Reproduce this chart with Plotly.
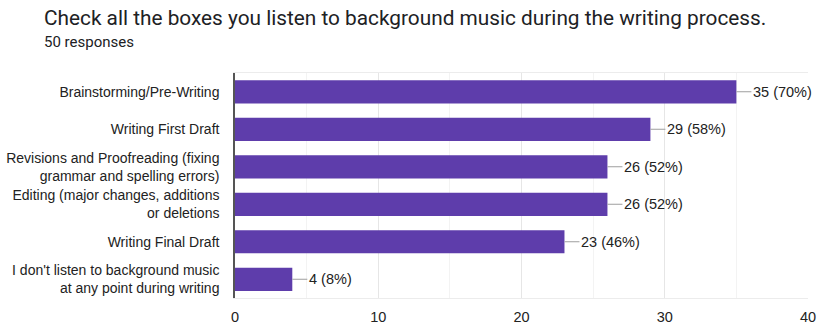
import plotly.graph_objects as go

categories = [
    "Brainstorming/Pre-Writing",
    "Writing First Draft",
    "Revisions and Proofreading (fixing<br>grammar and spelling errors)",
    "Editing (major changes, additions<br>or deletions",
    "Writing Final Draft",
    "I don't listen to background music<br>at any point during writing",
]
counts = [35, 29, 26, 26, 23, 4]
total_responses = 50
x_ticks = [0, 10, 20, 30, 40]
title_text = "Check all the boxes you listen to background music during the writing process."
subtitle_text = f"{total_responses} responses"

W, H = 817, 326
ML, MR, MT, MB = 235, 9, 73, 28
plot_h = H - MT - MB

bar_color = "#5e3dab"
fig = go.Figure()
fig.add_trace(go.Bar(
    x=counts, y=categories, orientation="h",
    marker=dict(color=bar_color, line=dict(width=0)),
    width=0.62, hoverinfo="skip",
))

for c, v in zip(categories, counts):
    fig.add_annotation(
        x=v, y=c, xref="x", yref="y",
        text=f"{v} ({round(100 * v / total_responses)}%)",
        showarrow=True, arrowhead=0, arrowwidth=1, arrowcolor="#9e9e9e",
        ax=15, ay=0, xanchor="left", yanchor="middle",
        font=dict(family="Liberation Sans, Arial", size=14.5, color="#222222"),
    )

fig.add_annotation(
    x=-(ML - 42) / (W - ML - MR), y=(H - MB - 18) / plot_h,
    xref="paper", yref="paper", xanchor="left", yanchor="middle",
    text=title_text, showarrow=False,
    font=dict(family="Roboto, Arial", size=20.8, color="#202124"),
)
fig.add_annotation(
    x=-(ML - 42) / (W - ML - MR), y=(H - MB - 42) / plot_h,
    xref="paper", yref="paper", xanchor="left", yanchor="middle",
    text=subtitle_text, showarrow=False,
    font=dict(family="Roboto, Arial", size=15, color="#202124"),
)

fig.update_layout(
    width=W, height=H,
    margin=dict(l=ML, r=MR, t=MT, b=MB),
    paper_bgcolor="white", plot_bgcolor="white",
    showlegend=False,
    font=dict(family="Liberation Sans, Arial", size=14, color="#222222"),
    xaxis=dict(
        range=[0, 40], tickvals=x_ticks, ticks="", showgrid=True,
        gridcolor="#e6e6e6", gridwidth=1, zeroline=False,
        minor=dict(dtick=5, showgrid=True, gridcolor="#f3f3f3", gridwidth=1),
        showline=True, linecolor="#ececec", mirror=True,
        ticklabelstandoff=6,
        tickfont=dict(family="Liberation Sans, Arial", size=14.5, color="#222222"),
        fixedrange=True, automargin=False,
    ),
    yaxis=dict(
        autorange="reversed", showgrid=False, ticks="", ticklabelstandoff=11,
        showline=True, linecolor="#555555", linewidth=1.5,
        tickfont=dict(family="Liberation Sans, Arial", size=14, color="#222222"),
        fixedrange=True, automargin=False,
    ),
)

fig.write_html("out.html")
